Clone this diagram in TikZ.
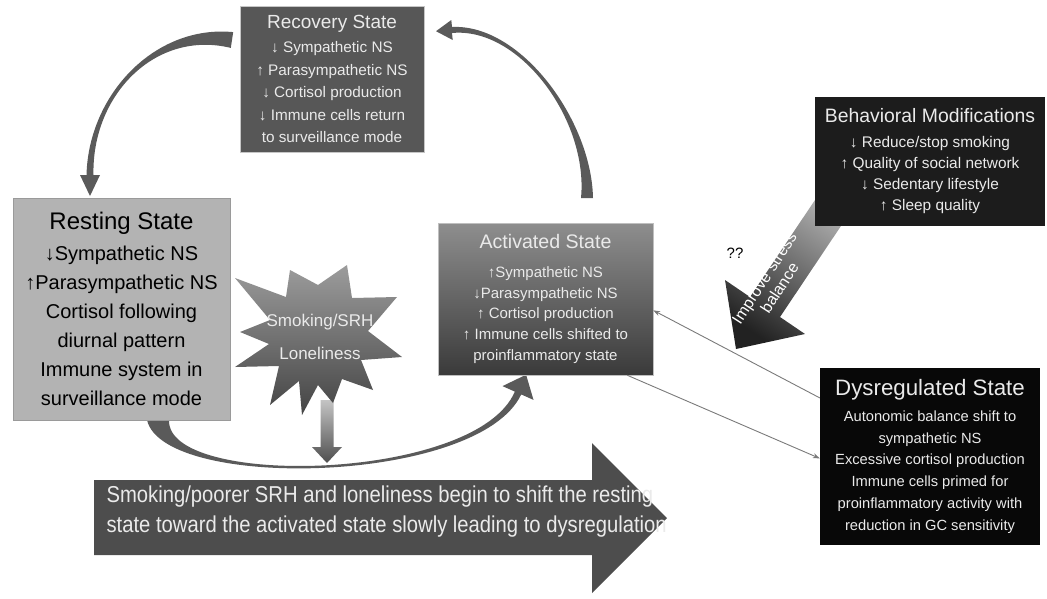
\documentclass[tikz,border=0pt]{standalone}
\usepackage{fontspec}
\setmainfont{Liberation Sans}
\newfontfamily\narrowfont{Liberation Sans}[FakeStretch=0.88]
\usetikzlibrary{arrows.meta,calc}
\definecolor{recfill}{HTML}{575757}
\definecolor{restfill}{HTML}{B3B3B3}
\definecolor{restdraw}{HTML}{9A9A9A}
\definecolor{acttop}{HTML}{8E8E8E}
\definecolor{actbot}{HTML}{3A3A3A}
\definecolor{behfill}{HTML}{1C1C1C}
\definecolor{dysfill}{HTML}{080808}
\definecolor{boxtext}{HTML}{EAEAEA}
\definecolor{curvegray}{HTML}{5A5A5A}
\definecolor{bigarrow}{HTML}{4D4D4D}
\definecolor{thingray}{HTML}{7A7A7A}
\definecolor{smalltop}{HTML}{C4C4C4}
\definecolor{smallbot}{HTML}{4E4E4E}
\definecolor{startop}{HTML}{9C9C9C}
\definecolor{starbot}{HTML}{444444}
\definecolor{stresstop}{HTML}{B4B4B4}
\definecolor{stressbot}{HTML}{222222}
\newcommand\setfs[2]{\fontsize{#1}{#2}\selectfont}
\tikzset{
  sbox/.style={rectangle, align=center, inner sep=0pt},
  curvearrow/.style={fill=curvegray},
  thinarrow/.style={draw=thingray, line width=0.9pt, -{Stealth[length=7pt,width=5pt]}},
}
\begin{document}
\begin{tikzpicture}[x=1pt,y=-1pt]
\useasboundingbox (0,0) rectangle (1047,598);

% curved arrows (block shapes)
\fill[curvearrow] (233.2,32.1) .. controls (155,24.5) and (88.5,94.5) .. (86.5,175)
  -- (80,175) -- (90,196) -- (100,175) -- (93.5,175)
  .. controls (91.5,95.5) and (155,29.5) .. (230.8,47.9) -- cycle;
\fill[curvearrow] (593,198) .. controls (591.5,120) and (520.5,23.5) .. (452,27)
  -- (451.3,20) -- (436,31.2) -- (452.7,40) -- (452,33)
  .. controls (519.5,26.5) and (588.5,120) .. (581,198) -- cycle;
\fill[curvearrow] (147,420) .. controls (163.6,491.4) and (479,484.5) .. (521.2,394.4)
  -- (533.5,399.9) -- (526.1,374.7) -- (502.5,386.1) -- (514.8,391.6)
  .. controls (477,481.5) and (166.4,488.6) .. (169,420) -- cycle;

% big bottom arrow
\fill[bigarrow] (94,480) -- (592,480) -- (592,443) -- (667,518) -- (592,593) -- (592,555) -- (94,555) -- cycle;
\node[anchor=west, align=left, text=boxtext, font=\narrowfont\setfs{23}{30}] (shifttext) at (103,512)
  {Smoking/poorer SRH and loneliness begin to shift the resting\\state toward the activated state slowly leading to dysregulation};

% small down arrow
\shade[top color=smalltop, bottom color=smallbot] (320.5,400) -- (333.5,400) -- (333.5,447) -- (342,447) -- (327,463) -- (312,447) -- (320.5,447) -- cycle;

% starburst
\shade[top color=startop, bottom color=starbot]
  (402,357) -- (361,360) -- (373,390) -- (342,379) -- (333,403) -- (318,385) -- (302,415) -- (299,381)
  -- (270,405) -- (279,366) -- (235,367) -- (269,344) -- (240,332) -- (270,320) -- (235,278) -- (286,297)
  -- (290,270) -- (318,285) -- (347,265) -- (352,298) -- (397,297) -- (368,331) -- cycle;
\node[align=center, text=boxtext, font=\setfs{17}{33}] (stressor) at (320,337) {Smoking/SRH\\Loneliness};

% improve stress balance arrow
\shade[top color=stresstop, bottom color=stressbot, shading angle=-34]
  (825,185) -- (855,205) -- (780,317) -- (805,334) -- (736,349) -- (725,280) -- (750,297) -- cycle;
\node[align=center, text=white, rotate=57, font=\setfs{16}{18}] (improve) at (772,283) {Improve stress\\balance};
\node[font=\setfs{15}{18}] (qq) at (735,253) {??};

% state boxes
\node[sbox, fill=recfill, draw=gray!45, line width=0.8pt, text=boxtext, minimum width=184pt, minimum height=146pt,
  font=\setfs{15.3}{22.5}] (rec) at (332,79)
  {{\setfs{19}{22.5}Recovery State}\\[1.5pt]
   ↓ Sympathetic NS\\ ↑ Parasympathetic NS\\ ↓ Cortisol production\\ ↓ Immune cells return\\ to surveillance mode};

\node[sbox, fill=restfill, draw=restdraw, line width=0.8pt, text=black, minimum width=217pt, minimum height=222pt,
  font=\setfs{20}{29}] (rest) at (121.5,309)
  {{\setfs{24}{29}Resting State}\\[1.5pt]
   ↓Sympathetic NS\\ ↑Parasympathetic NS\\ Cortisol following\\ diurnal pattern\\ Immune system in\\ surveillance mode};

\node[sbox, top color=acttop, bottom color=actbot, draw=gray!50, line width=0.5pt, text=boxtext, minimum width=215pt, minimum height=152pt,
  font=\setfs{15}{20.8}] (act) at (545.5,299)
  {{\setfs{19.6}{20.8}Activated State}\\[8pt]
   ↑Sympathetic NS\\ ↓Parasympathetic NS\\ ↑ Cortisol production\\ ↑ Immune cells shifted to\\ proinflammatory state};

\node[sbox, fill=behfill, text=boxtext, minimum width=230pt, minimum height=129pt,
  font=\setfs{15.4}{21}] (beh) at (930,161.5)
  {{\setfs{19.4}{21}Behavioral Modifications}\\[4pt]
   ↓ Reduce/stop smoking\\ ↑ Quality of social network\\ ↓ Sedentary lifestyle\\ ↑ Sleep quality};

\node[sbox, fill=dysfill, text=boxtext, minimum width=220pt, minimum height=177pt,
  font=\setfs{14.7}{21.8}] (dys) at (930,456.5)
  {{\setfs{22.3}{21.8}Dysregulated State}\\[3.6pt]
   Autonomic balance shift to\\ sympathetic NS\\ Excessive cortisol production\\ Immune cells primed for\\ proinflammatory activity with\\ reduction in GC sensitivity};

% thin connectors
\draw[thinarrow] (dys.152) -- (act.-6);
\draw[thinarrow] (act.-43) -- (dys.181);
\end{tikzpicture}
\end{document}
